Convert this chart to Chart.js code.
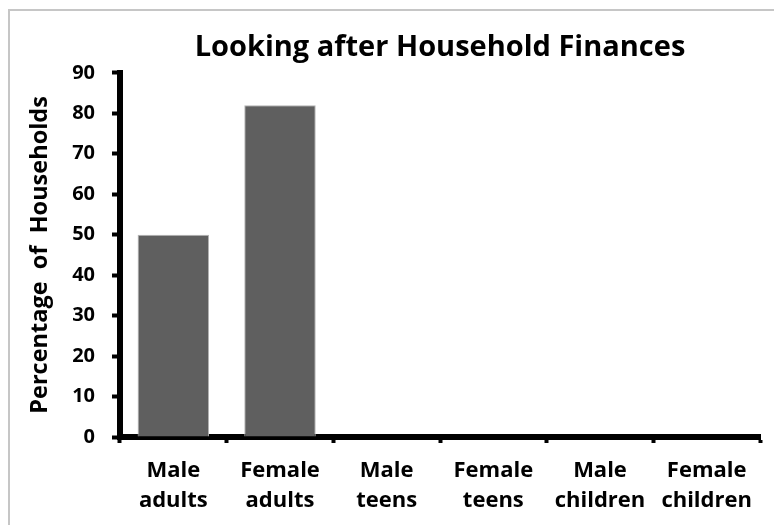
<!DOCTYPE html>
<html>
<head>
<meta charset="utf-8">
<script src="https://cdn.jsdelivr.net/npm/chart.js@4.4.1/dist/chart.umd.min.js"></script>
<style>
  html, body { margin: 0; padding: 0; background: #fff; }
  #wrap { position: relative; width: 774px; height: 525px; }
  #frame {
    position: absolute; left: 8px; top: 9px; right: 0; bottom: 0;
    border-left: 2px solid #c6c6c6; border-top: 2px solid #c6c6c6;
  }
  canvas { position: absolute; left: 0; top: 0; }
</style>
</head>
<body>
<div id="wrap">
  <div id="frame"></div>
  <canvas id="chart" width="774" height="525"></canvas>
</div>
<script>
// Chart data
const categories = [
  ['Male', 'adults'], ['Female', 'adults'],
  ['Male', 'teens'], ['Female', 'teens'],
  ['Male', 'children'], ['Female', 'children']
];
const households = [50, 82, 0, 0, 0, 0];
const yTicks = [0, 10, 20, 30, 40, 50, 60, 70, 80, 90];

const FONT = '"Open Sans", Lato, sans-serif';

new Chart(document.getElementById('chart').getContext('2d'), {
  type: 'bar',
  data: {
    labels: categories,
    datasets: [{
      label: 'Households',
      data: households,
      backgroundColor: '#5f5f5f',
      borderColor: '#b4b4b4',
      borderWidth: 1,
      barPercentage: 0.67,
      categoryPercentage: 1
    }]
  },
  options: {
    responsive: false,
    animation: false,
    layout: { padding: { left: 0, right: 14, top: 0, bottom: 0 } },
    plugins: {
      legend: { display: false },
      tooltip: { enabled: false },
      title: {
        display: true,
        text: 'Looking after Household Finances',
        fullSize: false,
        color: '#000',
        font: { family: FONT, size: 29, weight: 'bold' },
        padding: { top: 30, bottom: 8 }
      }
    },
    scales: {
      x: {
        grid: {
          offset: true,
          drawOnChartArea: false,
          drawTicks: true,
          tickLength: 6,
          tickWidth: 4,
          tickColor: '#000'
        },
        border: { display: true, color: '#000', width: 6 },
        ticks: {
          color: '#000',
          maxRotation: 0,
          autoSkip: false,
          padding: 12,
          font: { family: FONT, size: 22, weight: 'bold', lineHeight: 1.4 }
        },
        afterFit: s => { s.height = 88; }
      },
      y: {
        min: 0,
        max: 90,
        afterBuildTicks: s => { s.ticks = yTicks.map(v => ({ value: v })); },
        grid: {
          drawOnChartArea: false,
          drawTicks: true,
          tickLength: 8,
          tickWidth: 4,
          tickColor: '#000'
        },
        border: { display: true, color: '#000', width: 6 },
        ticks: {
          color: '#000',
          padding: 17,
          font: { family: FONT, size: 20, weight: 'bold' }
        },
        title: {
          display: true,
          text: 'Percentage  of  Households',
          color: '#000',
          font: { family: FONT, size: 23.5, weight: 'bold' },
          padding: { top: 26, bottom: 0 }
        },
        afterFit: s => { s.width = 120; }
      }
    }
  }
});
</script>
</body>
</html>
